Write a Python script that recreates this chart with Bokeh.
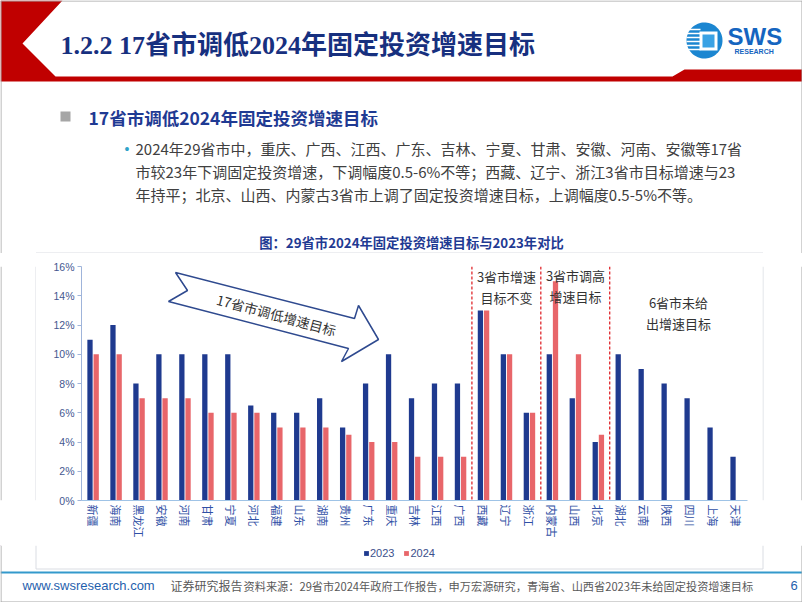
import numpy as np
from bokeh.plotting import figure
from bokeh.layouts import column, row
from bokeh.models import (ColumnDataSource, Range1d, FactorRange, PrintfTickFormatter,
                          FixedTicker, Label, PolyAnnotation, Span, Legend, LegendItem)
from bokeh.transform import dodge
from bokeh.core.properties import value
from bokeh.embed import file_html
from bokeh.resources import INLINE

# ---------------- data ----------------
provinces = ["新疆", "海南", "黑龙江", "安徽", "河南", "甘肃", "宁夏", "河北", "福建", "山东",
             "湖南", "贵州", "广东", "重庆", "吉林", "江西", "广西", "西藏", "辽宁", "浙江",
             "内蒙古", "山西", "北京", "湖北", "云南", "陕西", "四川", "上海", "天津"]
growth_2023 = [11, 12, 8, 10, 10, 10, 10, 6.5, 6, 6,
               7, 5, 8, 10, 7, 8, 8, 13, 10, 6,
               10, 7, 4, 10, 9, 8, 7, 5, 3]
growth_2024 = [10, 10, 7, 7, 7, 6, 6, 6, 5, 5,
               5, 4.5, 4, 4, 3, 3, 3, 13, 10, 6,
               15, 10, 4.5, None, None, None, None, None, None]
y_ticks = [0, 2, 4, 6, 8, 10, 12, 14, 16]
series_names = ["2023", "2024"]

C23 = "#1F3A8F"
C24 = "#E8666A"
NAVY = "#17307F"
RED = "#C00000"
BORDER = "#A6A6A6"
BOXC = "#DADDE3"
CJK = "Noto Sans CJK SC"


def canvas_fig(x0, y0, w, h):
    f = figure(width=w, height=h, x_range=Range1d(x0, x0 + w), y_range=Range1d(y0 + h, y0),
               min_border=0, x_axis_type=None, y_axis_type=None, toolbar_location=None,
               output_backend="svg", outline_line_color=None,
               background_fill_color="white", border_fill_color="white")
    f.grid.visible = False
    return f


def txt(f, t, x, y, size, color, bold=False, font=CJK, align="left", baseline="middle"):
    f.text(x=[x], y=[y], text=[t], text_font=value(font), text_font_size=f"{size}px",
           text_color=color, text_font_style="bold" if bold else "normal",
           text_align=align, text_baseline=baseline)


def hline(f, x0, x1, y, color, w=1):
    f.segment(x0=[x0], y0=[y], x1=[x1], y1=[y], line_color=color, line_width=w)


def vline(f, x, y0, y1, color, w=1):
    f.segment(x0=[x], y0=[y0], x1=[x], y1=[y1], line_color=color, line_width=w)


# ================= header (page y 0..253) =================
hd = canvas_fig(0, 0, 802, 253)
hd.patch([0, 62, 22, 55, 672, 684, 802, 802, 0], [0, 0, 43, 76, 76, 69, 69, 81, 81],
         fill_color=RED, line_color=None)
# logo
th = np.linspace(0, 2 * np.pi, 72)
hd.patch(704 + 18 * np.cos(th), 40 + 18 * np.sin(th), fill_color="#1B86D1", line_color=None)
hd.segment(x0=[686] * 6, x1=[700] * 6, y0=[29, 33, 37, 41, 45, 49], y1=[29, 33, 37, 41, 45, 49],
           line_color="white", line_width=1.5)
hd.quad(left=[699], right=[717], top=[31], bottom=[50], fill_color="white", line_color=None)
hd.quad(left=[702], right=[714], top=[34], bottom=[47], fill_color="#3AA2E4", line_color=None)
txt(hd, "SWS", 727, 36, 24, "#1565C0", bold=True, font="Liberation Sans")
txt(hd, "RESEARCH", 734, 51, 7, "#1565C0", bold=True, font="Liberation Sans")

txt(hd, "1.2.2 17省市调低2024年固定投资增速目标", 60, 45, 26, NAVY, bold=True,
    font="Liberation Serif, Noto Sans CJK SC")

hd.quad(left=[60], right=[70], top=[111], bottom=[121], fill_color="#A6A6A6", line_color=None)
txt(hd, "17省市调低2024年固定投资增速目标", 88, 117, 17.5, "#1F3A93", bold=True)
txt(hd, "•", 124, 148, 14, "#2FA3C9", font="Liberation Sans")
lines = ["2024年29省市中，重庆、广西、江西、广东、吉林、宁夏、甘肃、安徽、河南、安徽等17省",
         "市较23年下调固定投资增速，下调幅度0.5-6%不等；西藏、辽宁、浙江3省市目标增速与23",
         "年持平；北京、山西、内蒙古3省市上调了固定投资增速目标，上调幅度0.5-5%不等。"]
for i, ln in enumerate(lines):
    txt(hd, ln, 135, 148 + 23 * i, 15, "#404040")

txt(hd, "图：29省市2024年固定投资增速目标与2023年对比", 411, 242, 13.3, "#1F3A93", bold=True,
    align="center")
hline(hd, 35.5, 762.5, 252.5, BOXC)
vline(hd, 0.5, 0, 253, BORDER)
vline(hd, 801.5, 0, 253, BORDER)
hline(hd, 0, 802, 0.5, BORDER)

# ================= chart row (page y 253..545) =================
CH_Y0, CH_H = 253, 292
left_strip = canvas_fig(0, CH_Y0, 36, CH_H)
vline(left_strip, 35.5, CH_Y0, CH_Y0 + CH_H, BOXC)
vline(left_strip, 0.5, CH_Y0, CH_Y0 + CH_H, BORDER)

right_strip = canvas_fig(762, CH_Y0, 40, CH_H)
vline(right_strip, 762.5, CH_Y0, CH_Y0 + CH_H, BOXC)
vline(right_strip, 801.5, CH_Y0, CH_Y0 + CH_H, BORDER)

CX0, CW = 36, 726
FL, FR, FT, FB = 81, 747, 266, 500   # chart frame, page px
p = figure(width=CW, height=CH_H, x_range=FactorRange(*provinces), y_range=Range1d(0, 16),
           output_backend="svg", toolbar_location=None,
           min_border_left=FL - CX0, min_border_right=CX0 + CW - FR,
           min_border_top=FT - CH_Y0, min_border_bottom=CH_Y0 + CH_H - FB,
           background_fill_color="white", border_fill_color="white", outline_line_color=None)
p.xgrid.visible = False
p.ygrid.visible = False

src23 = ColumnDataSource(dict(prov=provinces, v=growth_2023))
p24 = [pr for pr, v in zip(provinces, growth_2024) if v is not None]
v24 = [v for v in growth_2024 if v is not None]
src24 = ColumnDataSource(dict(prov=p24, v=v24))

p.vbar(x=dodge("prov", -0.13, range=p.x_range), top="v", width=0.23, source=src23,
       fill_color=C23, line_color=None)
p.vbar(x=dodge("prov", 0.14, range=p.x_range), top="v", width=0.23, source=src24,
       fill_color=C24, line_color=None)

ya = p.yaxis[0]
ya.ticker = FixedTicker(ticks=y_ticks)
ya.formatter = PrintfTickFormatter(format="%d%%")
ya.axis_line_color = "#9FB4DA"
ya.major_tick_line_color = "#9FB4DA"
ya.major_tick_out = 4
ya.major_tick_in = 0
ya.minor_tick_line_color = None
ya.major_label_standoff = 3
ya.major_label_text_font = "Liberation Sans"
ya.major_label_text_font_size = "10.5px"
ya.major_label_text_color = "#44578F"

xa = p.xaxis[0]
xa.axis_line_color = "#9FC3E6"
xa.major_tick_line_color = None
xa.major_tick_out = 0
xa.major_label_standoff = 4
xa.major_label_orientation = "vertical"
xa.major_label_text_font = CJK
xa.major_label_text_font_size = "11px"
xa.major_label_text_color = "#2F50A5"

for name in ["西藏", "内蒙古", "湖北"]:
    p.add_layout(Span(location=provinces.index(name), dimension="height", line_color="#E0262B",
                      line_dash="3 2", line_width=1.3))


def clabel(t, x, y, size, color, align="center", angle=0, level="annotation"):
    p.add_layout(Label(x=x - CX0, y=y - CH_Y0, x_units="canvas", y_units="canvas", text=t,
                       text_font=CJK, text_font_size=f"{size}px", text_color=color,
                       text_align=align, text_baseline="middle", angle=angle,
                       angle_units="deg", level=level))


ax = [175, 187, 168, 348, 341, 378, 358, 354]
ay = [272, 290, 301, 348, 361, 339, 305, 318]
p.add_layout(PolyAnnotation(xs=[float(v - CX0) for v in ax], ys=[float(v - CH_Y0) for v in ay],
                            xs_units="canvas", ys_units="canvas", fill_color="white", fill_alpha=1,
                            line_color="#2F4A8F", line_alpha=1, line_width=1.5, level="overlay"))
clabel("17省市调低增速目标", 276, 314, 13.5, "#333333", angle=-15, level="overlay")

for t, x, y in [("3省市增速", 506, 276), ("目标不变", 506, 297), ("3省市调高", 575, 275),
                ("增速目标", 575, 296), ("6省市未给", 678, 302), ("出增速目标", 678, 323)]:
    clabel(t, x, y, 13, "#333333")

# ================= footer (page y 545..602) =================
FT_Y0, FT_H = 545, 57
ft = canvas_fig(0, FT_Y0, 802, FT_H)
# invisible carriers for the legend swatches (outside the visible range)
d23 = ft.vbar(x=[-100], top=[-100], bottom=[-101], width=1, fill_color=C23, line_color=None)
d24 = ft.vbar(x=[-100], top=[-100], bottom=[-101], width=1, fill_color=C24, line_color=None)
legend = Legend(items=[LegendItem(label=series_names[0], renderers=[d23]),
                       LegendItem(label=series_names[1], renderers=[d24])],
                orientation="horizontal", location=(363, FT_Y0 + FT_H - 559),
                glyph_width=6, glyph_height=6,
                label_text_font="Liberation Sans", label_text_font_size="11px",
                label_text_color="#3B4F8C", label_standoff=1, spacing=9, padding=0, margin=0,
                border_line_color=None, background_fill_alpha=0, label_height=12)
ft.add_layout(legend)

vline(ft, 35.5, FT_Y0, 568.5, BOXC)
vline(ft, 762.5, FT_Y0, 568.5, BOXC)
hline(ft, 35.5, 762.5, 568.5, BOXC)
ft.quad(left=[0], right=[802], top=[571], bottom=[573], fill_color="#3399CC", line_color=None)
txt(ft, "www.swsresearch.com", 22, 585, 13, "#1F5FAD", font="Liberation Sans")
txt(ft, "证券研究报告", 170, 585, 12, "#595959")
txt(ft, "资料来源：29省市2024年政府工作报告，申万宏源研究，青海省、山西省2023年未给固定投资增速目标",
    243, 585, 11.2, "#595959")
txt(ft, "6", 790, 585, 13, "#1F5FAD", font="Liberation Sans")
vline(ft, 0.5, FT_Y0, 602, BORDER)
vline(ft, 801.5, FT_Y0, 602, BORDER)
hline(ft, 0, 802, 601.5, BORDER)

layout = column(hd, row(left_strip, p, right_strip, spacing=0), ft, spacing=0)
open("out.html", "w").write(file_html(layout, INLINE))
